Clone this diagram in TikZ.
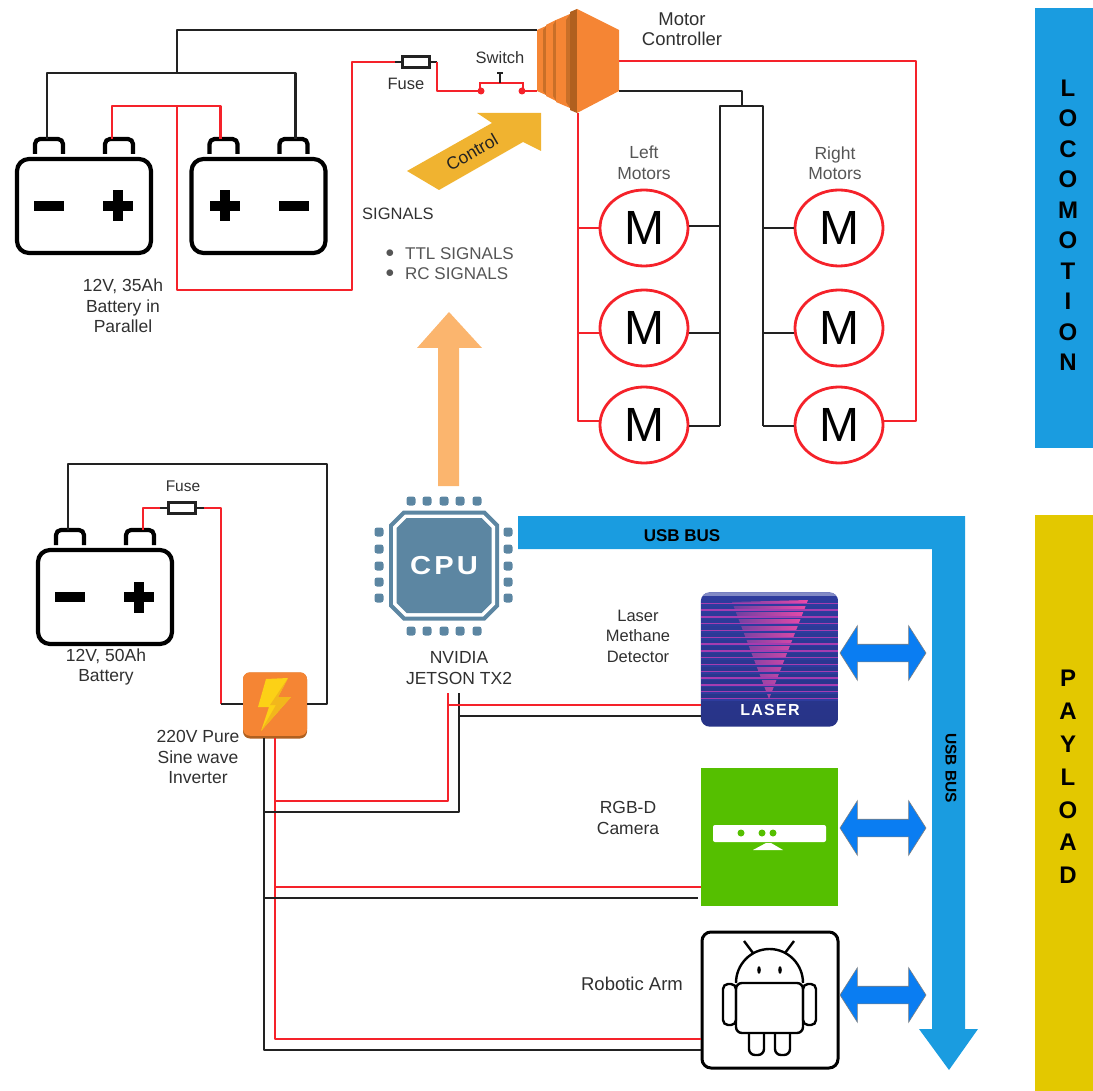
\documentclass[tikz,border=0pt]{standalone}
\usepackage{fontspec}
\setmainfont{Liberation Sans}
\usetikzlibrary{shapes.arrows,shapes.geometric}
\definecolor{redwire}{HTML}{F5222A}
\definecolor{blackwire}{HTML}{222222}
\definecolor{txtdark}{HTML}{303030}
\definecolor{txtgrey}{HTML}{555555}
\definecolor{busblue}{HTML}{1A9CE0}
\definecolor{arrowblue}{HTML}{0A7DF2}
\definecolor{paygold}{HTML}{E3C800}
\definecolor{ctlorange}{HTML}{F58534}
\definecolor{ctlmid}{HTML}{C96F28}
\definecolor{ctldark}{HTML}{B0601F}
\definecolor{ctrlgold}{HTML}{F0B330}
\definecolor{sigorange}{HTML}{FBB56E}
\definecolor{cpublue}{HTML}{5C86A2}
\definecolor{lasblue}{HTML}{2E3C9E}
\definecolor{laspink}{HTML}{EE4AA8}
\definecolor{laspurple}{HTML}{A63CB0}
\definecolor{camgreen}{HTML}{55BF00}
\definecolor{boltyel}{HTML}{FCD116}
\definecolor{boltdark}{HTML}{F2B71C}
\tikzset{
  redw/.style={draw=redwire, line width=2.8, line join=round},
  blackw/.style={draw=blackwire, line width=2.8, line join=round},
  stub/.style={draw=blackwire, line width=1.6},
  lbl/.style={font=\fontsize{16.5}{20.5}\selectfont, align=center, text=txtdark, inner sep=0},
  lblb/.style={lbl, font=\fontsize{17.5}{20.5}\selectfont},
  lblc/.style={lbl, font=\fontsize{18.5}{20.5}\selectfont},
  greylbl/.style={lbl, text=txtgrey},
  sidebar/.style={font=\bfseries\fontsize{24}{#1}\selectfont, align=center, text=black, inner sep=0},
  motor/.style={ellipse, draw=redwire, line width=2.8, fill=white, minimum width=88, minimum height=76, inner sep=0, font=\fontsize{48}{48}\selectfont},
  fusebox/.style={rectangle, draw=blackwire, line width=2.2, fill=white, minimum width=27, minimum height=11, inner sep=0},
  cpupin/.style={rectangle, rounded corners=2.5, fill=cpublue, minimum size=9, inner sep=0},
  iconbox/.style={rectangle, minimum width=137, minimum height=134, inner sep=0},
  bothway/.style={double arrow, draw=black!50, line width=.6, fill=arrowblue, minimum height=86, minimum width=54, double arrow head extend=18.5, double arrow tip angle=115, inner xsep=0, inner ysep=8.5},
  batline/.style={draw=black, line width=4.2, line join=round},
  battery/.pic={
    \draw[batline, rounded corners=12, fill=white] (-67,-47) rectangle (67,47);
    \draw[batline, rounded corners=5] (-49,-52) -- (-49,-67) -- (-21,-67) -- (-21,-52);
    \draw[batline, rounded corners=5] (21,-52) -- (21,-67) -- (49,-67) -- (49,-52);
    \fill[black] (-50,-5) rectangle (-20,5);
    \fill[black] (19,-5) rectangle (49,5);
    \fill[black] (29,-15.5) rectangle (39,15.5);
    \coordinate (-neg) at (-37,-67);
    \coordinate (-pos) at (38,-67);
  }
}
\begin{document}
\begin{tikzpicture}[x=1pt,y=-1pt]
\useasboundingbox (0,0) rectangle (1093,1091);
\fill[busblue] (1035,8) rectangle (1093,448);
\fill[paygold] (1035,515) rectangle (1093,1091);
\node[sidebar=30.5] (locobar) at (1068,225) {L\\O\\C\\O\\M\\O\\T\\I\\O\\N};
\node[sidebar=32.8] (paybar) at (1068,777) {P\\A\\Y\\L\\O\\A\\D};
\pic (bata) at (84,206) {battery};
\pic[xscale=-1] (batb) at (258.5,206) {battery};
\pic (batc) at (105,597) {battery};
\node[lblb] (batalbl) at (123,306) {12V, 35Ah\\Battery in\\Parallel};
\node[lblb] (batclbl) at (106,667) {12V, 50Ah\\Battery};
\coordinate (blkjoin) at (177,73);
\coordinate (redjoin) at (177,106);
\coordinate (redlow) at (177,290);
\coordinate (redup) at (352,62);
\coordinate (ctlblk) at (537,30);
\coordinate (ctlsw) at (537,91);
\coordinate (ctlred) at (619,61);
\coordinate (ctlout) at (619,91);
\coordinate (ctlleft) at (578,113);
\foreach \xa/\xb/\xc/\ya/\yb/\yc/\yd in {537/543/546/30/26/95/91, 546/553/556/25/20/101/96, 556/566/570/20/14/108/102}{
\fill[ctlorange] (\xa,\ya) -- (\xc,\yb) -- (\xc,\yc) -- (\xa,\yd) -- cycle;
\fill[ctlmid] (\xb,\ya) -- (\xc,\yb) -- (\xc,\yc) -- (\xb,\yd) -- cycle;
}
\fill[ctldark] (570,12) -- (577,9) -- (577,113) -- (570,110) -- cycle;
\fill[ctlorange] (577,9) -- (619,30) -- (619,91) -- (577,113) -- cycle;
\node[lblc] (ctllbl) at (682,29) {Motor\\Controller};
\draw[blackw] (bata-neg) |- (blkjoin);
\draw[blackw] (blkjoin) -| (batb-neg);
\draw[blackw] (blkjoin) |- (ctlblk);
\draw[redw] ([xshift=-10]bata-pos) |- (redjoin);
\draw[redw] (redjoin) -| (batb-pos);
\node[fusebox] (fusea) at (416,62) {};
\node[lbl] (fusealbl) at (406,84) {Fuse};
\node[lbl] (switchlbl) at (500,58) {Switch};
\coordinate (fuseain) at (395,62);
\coordinate (fuseaout) at (437,62);
\coordinate (swin) at (459,91);
\coordinate (swa) at (481,91);
\coordinate (swb) at (522,91);
\draw[redw] (redjoin) |- (redlow) -| (redup) -- (fuseain);
\draw[stub] (fuseain) -- (fusea) -- (fuseaout);
\draw[redw] (fuseaout) |- (swin);
\draw[draw=redwire, line width=1.2] (swin) -- (swa);
\draw[draw=redwire, line width=1.2] (swb) -- (ctlsw);
\draw[draw=redwire, line width=1.6] (480,91) -- (480,83) -- (523,83) -- (523,91);
\draw[draw=blackwire, line width=1.2] (500,83) -- (500,73);
\draw[draw=blackwire, line width=1.2] (497,73) -- (503,73);
\fill[redwire] (swa) circle (3.5);
\fill[redwire] (swb) circle (3.5);
\fill[ctrlgold] (407,171) -- (492,123) -- (477,113) -- (541,113) -- (541,151) -- (523,142) -- (439,190) -- cycle;
\node[lblb, rotate=30, text=blackwire] (ctrllbl) at (472,152) {Control};
\node[lbl, anchor=west] (siglbl) at (362,214) {SIGNALS};
\node[greylbl] (bulleta) at (390,254) {$\bullet$};
\node[greylbl] (bulletb) at (390,274) {$\bullet$};
\node[greylbl, anchor=west, font=\fontsize{17}{20}\selectfont] (ttllbl) at (405,254) {TTL SIGNALS};
\node[greylbl, anchor=west, font=\fontsize{17}{20}\selectfont] (rclbl) at (405,274) {RC SIGNALS};
\fill[sigorange] (438,486) -- (438,348) -- (417,348) -- (449,312) -- (482,348) -- (459,348) -- (459,486) -- cycle;
\node[motor] (mota) at (644,228) {M};
\node[motor] (motb) at (644,328) {M};
\node[motor] (motc) at (644,425) {M};
\node[motor] (motd) at (839,228) {M};
\node[motor] (mote) at (839,328) {M};
\node[motor] (motf) at (839,425) {M};
\node[greylbl, font=\fontsize{17.5}{20.5}\selectfont] (leftlbl) at (644,163) {Left\\Motors};
\node[greylbl, font=\fontsize{17.5}{20.5}\selectfont] (rightlbl) at (835,163) {Right\\Motors};
\coordinate (busl) at (720,106);
\coordinate (busr) at (763,106);
\coordinate (buslow) at (720,426);
\coordinate (busrlow) at (763,426);
\coordinate (busmid) at (742,106);
\coordinate (redtrunk) at (578,421);
\coordinate (redright) at (916,421);
\draw[blackw] (ctlout) -| (busmid);
\draw[blackw] (buslow) -- (busl) -- (busr) -- (busrlow);
\draw[blackw] (mota.east |- 0,226) -- (720,226);
\draw[blackw] (motb.east |- 0,333) -- (720,333);
\draw[blackw] (motc.east |- 0,426) -- (buslow);
\draw[blackw] (motd.west |- 0,228) -- (763,228);
\draw[blackw] (mote.west |- 0,333) -- (763,333);
\draw[blackw] (motf.west |- 0,426) -- (busrlow);
\draw[redw] (ctlleft) -- (redtrunk) -- (redtrunk -| motc.west);
\draw[redw] (578,228) -- (mota.west);
\draw[redw] (578,333) -- (motb.west |- 0,333);
\draw[redw] (ctlred) -| (redright) -- (redright -| motf.east);
\fill[busblue] (518,516) -- (965,516) -- (965,1029) -- (978,1029) -- (949,1070) -- (919,1029) -- (932,1029) -- (932,549) -- (518,549) -- cycle;
\node[font=\bfseries\fontsize{17}{20}\selectfont, inner sep=0] (usbh) at (682,536) {USB BUS};
\node[font=\bfseries\fontsize{15.5}{20}\selectfont, inner sep=0, rotate=-90] (usbv) at (951,768) {USB BUS};
\node[rectangle, minimum size=110, inner sep=0] (cpu) at (444,565.5) {};
\foreach \hs/\cs/\ch in {55/14/cpublue, 51/12/white, 47.5/10/cpublue}{
\fill[\ch] ([shift={(-\hs+\cs,-\hs)}]cpu.center) -- ([shift={(\hs-\cs,-\hs)}]cpu.center) -- ([shift={(\hs,-\hs+\cs)}]cpu.center) -- ([shift={(\hs,\hs-\cs)}]cpu.center) -- ([shift={(\hs-\cs,\hs)}]cpu.center) -- ([shift={(-\hs+\cs,\hs)}]cpu.center) -- ([shift={(-\hs,\hs-\cs)}]cpu.center) -- ([shift={(-\hs,-\hs+\cs)}]cpu.center) -- cycle;
}
\node[font=\bfseries\fontsize{26}{26}\selectfont\addfontfeature{LetterSpace=11}, text=white, xscale=1.12, inner sep=0] (cpulbl) at (cpu) {CPU};
\foreach \xp in {411,427,444,460,477}{
\node[cpupin] (pint\xp) at (\xp,501) {};
\node[cpupin] (pinb\xp) at (\xp,631) {};
}
\foreach \yp in {532,549,566,582,598}{
\node[cpupin] (pinl\yp) at (379,\yp) {};
\node[cpupin] (pinr\yp) at (508,\yp) {};
}
\node[lblb] (cpulabel) at (459,668) {NVIDIA\\JETSON TX2};
\node[iconbox] (laser) at (769.5,659.5) {};
\begin{scope}
\clip[rounded corners=9] (laser.south west) rectangle (laser.north east);
\shade[top color=lasblue, bottom color=lasblue!85!black] (laser.south west) rectangle (laser.north east);
\fill[lasblue!60!white] (701,593) rectangle (838,596);
\shade[left color=lasblue!70!laspink, middle color=laspink!85!lasblue, right color=laspink] (732,602) -- (808,600) -- (769,699) -- cycle;
\foreach \ys in {0,...,14}{
\fill[lasblue] (701,604+\ys*6.8) rectangle (838,605.6+\ys*6.8);
\fill[laspurple] (701,602.5+\ys*6.8) rectangle (838,604+\ys*6.8);
}
\end{scope}
\node[font=\bfseries\fontsize{16}{16}\selectfont\addfontfeature{LetterSpace=8}, text=white, inner sep=0] (laserlbl) at (770,710) {LASER};
\node[iconbox, fill=camgreen, minimum height=138] (camera) at (769.5,837) {};
\node[rectangle, rounded corners=2, fill=white, minimum width=113, minimum height=17, inner sep=0] (kinect) at (769.5,833.5) {};
\foreach \xd in {741,762,773}{
\fill[camgreen] (\xd,833) circle (3.5);
}
\fill[white] (753,850) -- (766,843) -- (771,843) -- (783,850) -- cycle;
\node[iconbox, draw=black, line width=3, rounded corners=9, minimum width=136, minimum height=136] (arm) at (770,1000) {};
\draw[draw=black, line width=2.4, rounded corners=6] (736,983) -- (803,983) -- (803,1033) -- (736,1033) -- cycle;
\draw[draw=black, line width=2.4] (736,983) arc[start angle=180, end angle=360, x radius=33.5, y radius=34];
\draw[draw=black, line width=2.4, rounded corners=5] (723,984) rectangle (736,1025);
\draw[draw=black, line width=2.4, rounded corners=5] (803,984) rectangle (816,1025);
\draw[draw=black, line width=2.4, rounded corners=6] (749,1033) -- (749,1055) -- (764,1055) -- (764,1033);
\draw[draw=black, line width=2.4, rounded corners=6] (775,1033) -- (775,1055) -- (790,1055) -- (790,1033);
\draw[draw=black, line width=2.4] (744,941) -- (753,953);
\draw[draw=black, line width=2.4] (794,941) -- (785,953);
\fill[black] (759,970) ellipse (1.8 and 3.8);
\fill[black] (780,970) ellipse (1.8 and 3.8);
\node[bothway] (arrowa) at (883,653) {};
\node[bothway] (arrowb) at (883,828) {};
\node[bothway] (arrowc) at (883,995) {};
\node[lbl] (laslbl) at (638,636) {Laser\\Methane\\Detector};
\node[lblb] (camlbl) at (628,818) {RGB-D\\Camera};
\node[lblc] (armlbl) at (632,984) {Robotic Arm};
\node[fusebox] (fusec) at (182,508) {};
\node[lbl, font=\fontsize{15.5}{20}\selectfont] (fusecl) at (183,486) {Fuse};
\node[rectangle, rounded corners=7, fill=ctldark, minimum width=64, minimum height=66, inner sep=0] (invshade) at (275,705.5) {};
\node[rectangle, rounded corners=7, fill=ctlorange, minimum width=64, minimum height=63.5, inner sep=0] (invtr) at (275,704) {};
\fill[boltyel] (266,679) -- (288,678) -- (278,697) -- (291,697) -- (261,731) -- (269,707) -- (258,707) -- cycle;
\fill[boltdark] (288,678) -- (278,697) -- (291,697) -- (261,731) -- (276,705) -- (270,705) -- cycle;
\node[lblb] (invlbl) at (198,757) {220V Pure\\Sine wave\\Inverter};
\coordinate (redfusein) at (160,508);
\coordinate (redfuseout) at (204,508);
\coordinate (blackup) at (327,464);
\coordinate (invin) at (221,704);
\draw[blackw] (batc-neg) |- (blackup) |- (invtr.east);
\draw[redw] (batc-pos) |- (redfusein);
\draw[stub] (redfusein) -- (fusec) -- (redfuseout);
\draw[redw] (redfuseout) -| (invin);
\draw[blackw] (invin) -- (invtr.west);
\coordinate (invblk) at (264,738);
\coordinate (invred) at (275,738);
\coordinate (jetred) at (448,693);
\coordinate (jetblk) at (459,693);
\draw[blackw] (invblk) |- (arm.west |- 0,1050);
\draw[redw] (invred) |- (arm.west |- 0,1039);
\draw[redw] (275,801) -| (jetred);
\draw[blackw] (264,812) -| (jetblk);
\draw[redw] (448,705) -- (laser.west |- 0,705);
\draw[blackw] (459,716) -- (laser.west |- 0,716);
\draw[redw] (275,887) -- (camera.west |- 0,887);
\draw[blackw] (264,898) -- (698,898);
\end{tikzpicture}
\end{document}
